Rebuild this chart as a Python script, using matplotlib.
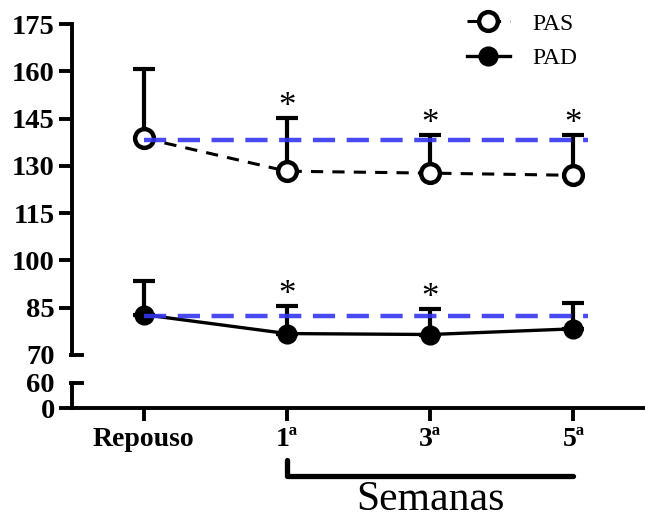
import numpy as np
import matplotlib.pyplot as plt
import matplotlib.transforms as mtransforms

plt.rcParams['font.family'] = ['Liberation Serif', 'DejaVu Serif']

# dados
grupos = ['Repouso', '1ª', '3ª', '5ª']
pas = [138.8, 128.3, 127.7, 127.0]
pas_dp = [22.0, 16.8, 12.0, 12.7]
pad = [82.8, 76.8, 76.5, 78.3]
pad_dp = [10.6, 8.8, 8.2, 8.3]
pas_sig = [False, True, True, True]
pad_sig = [False, True, True, False]
ref_pas = 138.3
ref_pad = 82.3

x = np.arange(len(grupos))
W, H = 645, 520

fig = plt.figure(figsize=(W / 100, H / 100), dpi=100)
ax = fig.add_axes([72 / W, 1 - 355 / H, 1 - 72 / W, 331 / H])
ax2 = fig.add_axes([72 / W, 1 - 408 / H, 1 - 72 / W, 25 / H])

lw_err = 3
# linhas de referencia (azul)
for r in (ref_pas, ref_pad):
    ax.plot([x[0], x[-1] + 0.1], [r, r], color='#3535f0', alpha=0.9, lw=3.2,
            dashes=(5, 2.6), zorder=5)

ax.errorbar(x, pas, yerr=[np.zeros(4), pas_dp], fmt='none', ecolor='black',
            elinewidth=lw_err, capsize=8, capthick=lw_err, zorder=2)
ax.errorbar(x, pad, yerr=[np.zeros(4), pad_dp], fmt='none', ecolor='black',
            elinewidth=lw_err, capsize=8, capthick=lw_err, zorder=2)

ax.plot(x, pas, color='black', lw=2.2, dashes=(4, 3), marker='o', ms=13.5,
        mfc='white', mec='black', mew=3.2, zorder=4, label='PAS')
ax.plot(x, pad, color='black', lw=2.4, marker='o', ms=13.5,
        mfc='black', mec='black', zorder=4, label='PAD')

# asteriscos (diferenca significativa)
for i in range(len(x)):
    if pas_sig[i]:
        ax.text(x[i], pas[i] + pas_dp[i] + 0.6, '*', ha='center', va='baseline', fontsize=25)
    if pad_sig[i]:
        ax.text(x[i], pad[i] + pad_dp[i] + 0.6, '*', ha='center', va='baseline', fontsize=25)

ax.set_xlim(-0.5, 3.5)
ax.set_ylim(70, 175)
ax.set_yticks(np.arange(85, 176, 15))
ax.set_yticks([70], minor=True)
ax.set_yticklabels([str(v) for v in range(85, 176, 15)])
ax2.set_xlim(-0.5, 3.5)
ax2.set_ylim(0, 60)
ax2.set_yticks([0])
ax2.set_yticks([60], minor=True)

for a in (ax, ax2):
    a.spines['top'].set_visible(False)
    a.spines['right'].set_visible(False)
    a.spines['left'].set_linewidth(2.8)
    a.tick_params(axis='y', which='major', length=9.5, width=2.8, labelsize=20.5, pad=3)
    a.tick_params(axis='y', which='minor', length=2.5, width=2.8, labelsize=20.5, pad=10)
    for t in a.get_yticklabels():
        t.set_fontweight('bold')
ax.set_yticklabels(['70'], minor=True, fontweight='bold')
ax2.set_yticklabels(['60'], minor=True, fontweight='bold')
ax2.set_yticklabels(['0'], fontweight='bold')

ax.spines['bottom'].set_visible(False)
ax.tick_params(axis='x', bottom=False, labelbottom=False)
ax2.spines['bottom'].set_linewidth(2.8)
ax2.set_xticks(x)
ax2.set_xticklabels(grupos, fontsize=20, fontweight='bold')
ax2.tick_params(axis='x', length=9, width=2.8, pad=5)

# marcas de quebra do eixo (para dentro)
w_ax = W - 72
ax.plot([0, 10 / w_ax], [0, 0], transform=ax.transAxes, color='black', lw=2.8, clip_on=False)
ax2.plot([0, 10 / w_ax], [1, 1], transform=ax2.transAxes, color='black', lw=2.8, clip_on=False)

ax.legend(loc='upper left', bbox_to_anchor=((467 - 72) / w_ax, 1.033), frameon=False,
          fontsize=17, borderpad=0, borderaxespad=0,
          handlelength=1.8, handletextpad=0.95, labelspacing=0.55)

# colchete "Semanas"
tr = mtransforms.blended_transform_factory(ax2.transData, fig.transFigure)
ax2.plot([1, 1, 3], [1 - 460 / H, 1 - 476 / H, 1 - 476 / H], transform=tr,
         color='black', lw=3.8, clip_on=False, solid_capstyle='round')
ax2.text(2, 1 - 500 / H, 'Semanas', transform=tr, ha='center', va='center', fontsize=30)

fig.savefig('out.png', dpi=100)
